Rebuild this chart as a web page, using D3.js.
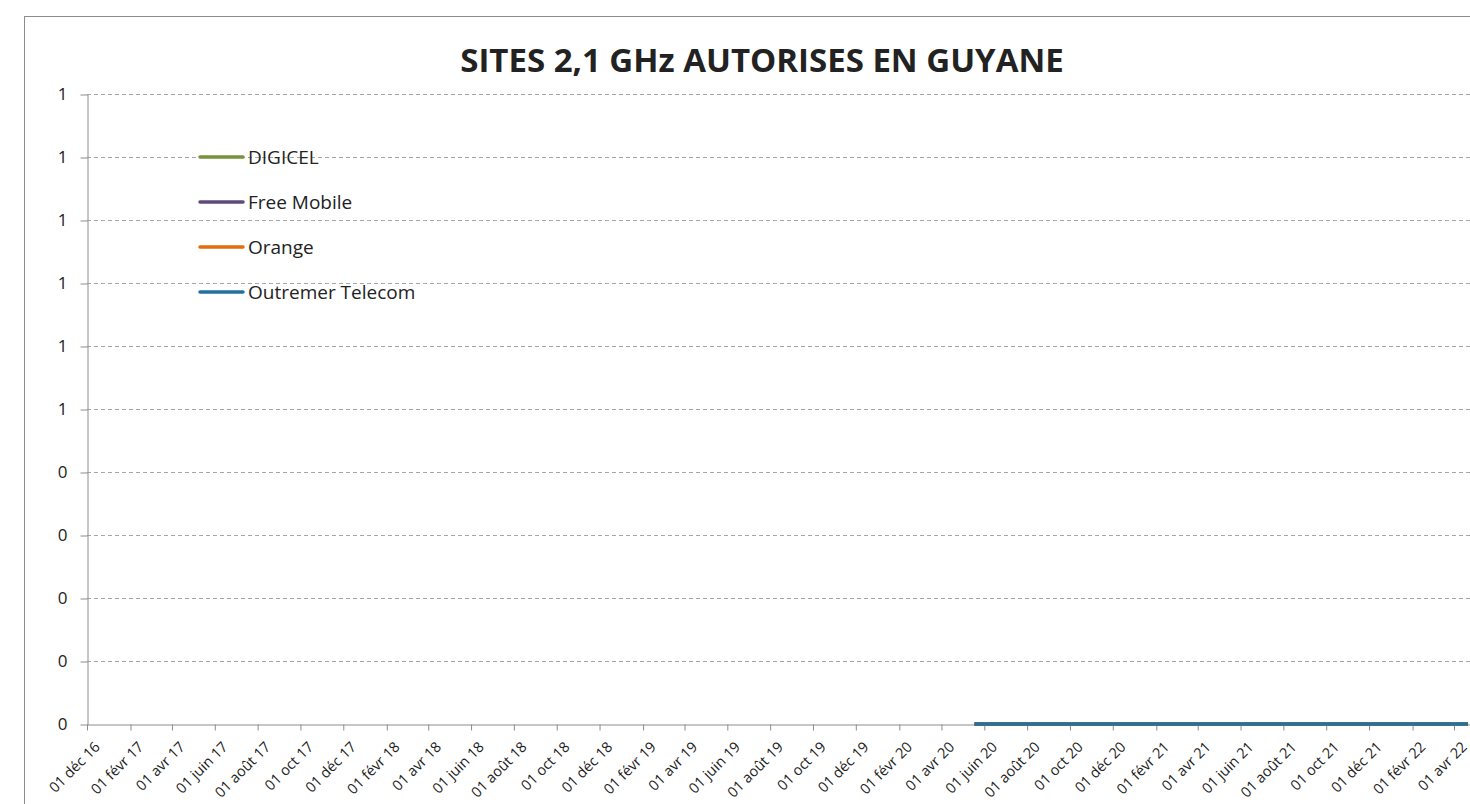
<!DOCTYPE html>
<meta charset="utf-8">
<script src="https://d3js.org/d3.v7.min.js"></script>
<style>
  body { margin: 0; background: #fff; overflow: hidden; }
  text { font-family: "Open Sans", "Liberation Sans", sans-serif; fill: #222; }
</style>
<div id="chart"></div>
<script>

// ---- data ----
var series = ["DIGICEL", "Free Mobile", "Orange", "Outremer Telecom"];
var colors = ["#77933C", "#604A7B", "#E46C0A", "#21729F"];

// dates of the observations (all operators report 0 sites)
var obsDates = ["2020-05-18", "2020-07-01", "2020-09-01", "2020-11-01", "2021-01-01",
  "2021-03-01", "2021-05-01", "2021-07-01", "2021-09-01", "2021-11-01",
  "2022-01-01", "2022-03-01", "2022-04-21"];
var digicel   = [0, 0, 0, 0, 0, 0, 0, 0, 0, 0, 0, 0, 0];
var freeMob   = [0, 0, 0, 0, 0, 0, 0, 0, 0, 0, 0, 0, 0];
var orange    = [0, 0, 0, 0, 0, 0, 0, 0, 0, 0, 0, 0, 0];
var outremer  = [0, 0, 0, 0, 0, 0, 0, 0, 0, 0, 0, 0, 0];
var values = [digicel, freeMob, orange, outremer];

var yTicks = [0, 0.1, 0.2, 0.3, 0.4, 0.5, 0.6, 0.7, 0.8, 0.9, 1];
var yTickLabels = ["0", "0", "0", "0", "0", "1", "1", "1", "1", "1", "1"];

var xTickDates = ["2016-12-01", "2017-02-01", "2017-04-01", "2017-06-01", "2017-08-01",
  "2017-10-01", "2017-12-01", "2018-02-01", "2018-04-01", "2018-06-01", "2018-08-01",
  "2018-10-01", "2018-12-01", "2019-02-01", "2019-04-01", "2019-06-01", "2019-08-01",
  "2019-10-01", "2019-12-01", "2020-02-01", "2020-04-01", "2020-06-01", "2020-08-01",
  "2020-10-01", "2020-12-01", "2021-02-01", "2021-04-01", "2021-06-01", "2021-08-01",
  "2021-10-01", "2021-12-01", "2022-02-01", "2022-04-01"];
var monthsFr = ["janv", "févr", "mars", "avr", "mai", "juin", "juil", "août", "sept", "oct", "nov", "déc"];

var title = "SITES 2,1 GHz AUTORISES EN GUYANE";

// ---- layout ----
var W = 1470, H = 804;
var plotLeft = 87, plotTop = 94, plotBottom = 724;

var svg = d3.select("#chart").append("svg")
  .attr("width", W).attr("height", H);

svg.append("rect")
  .attr("x", 24.5).attr("y", 16.5)
  .attr("width", W + 50).attr("height", H + 50)
  .attr("fill", "#fff").attr("stroke", "#8c8c8c");

var parse = d3.utcParse("%Y-%m-%d");
var t0 = parse("2016-12-01"), t1 = parse("2022-04-01");
// the plot keeps going beyond the window on the right
var pxPerDay = (1454 - plotLeft) / d3.utcDay.count(t0, t1);
var tEnd = parse("2022-08-01");

var x = d3.scaleUtc()
  .domain([t0, tEnd])
  .range([plotLeft, plotLeft + pxPerDay * d3.utcDay.count(t0, tEnd)]);

var y = d3.scaleLinear()
  .domain([0, 1])
  .range([plotBottom, plotTop]);

// gridlines
svg.append("g")
  .selectAll("line")
  .data(yTicks.slice(1))
  .join("line")
    .attr("x1", plotLeft).attr("x2", W)
    .attr("y1", d => Math.round(y(d)) + 0.5)
    .attr("y2", d => Math.round(y(d)) + 0.5)
    .attr("stroke", "#a6a6a6")
    .attr("stroke-dasharray", "4,3");

// y axis
var yAxis = svg.append("g")
  .attr("transform", "translate(" + (plotLeft + 0.5) + ",0.5)")
  .call(d3.axisLeft(y)
    .tickValues(yTicks)
    .tickFormat((d, i) => yTickLabels[i])
    .tickSize(7)
    .tickPadding(13)
    .tickSizeOuter(0));
yAxis.select(".domain").attr("stroke", "#8c8c8c");
yAxis.selectAll(".tick line").attr("stroke", "#8c8c8c");
yAxis.selectAll(".tick text")
  .style("font-size", "17px")
  .attr("fill", "#222");

// x axis
var xAxis = svg.append("g")
  .attr("transform", "translate(0," + (plotBottom + 0.5) + ")")
  .call(d3.axisBottom(x)
    .tickValues(xTickDates.map(parse))
    .tickFormat(d => "01 " + monthsFr[d.getUTCMonth()] + " " + String(d.getUTCFullYear()).slice(2))
    .tickSize(6)
    .tickSizeOuter(0));
xAxis.select(".domain").attr("stroke", "#8c8c8c");
xAxis.selectAll(".tick line").attr("stroke", "#8c8c8c");
xAxis.selectAll(".tick text")
  .style("font-size", "14.5px")
  .attr("fill", "#222")
  .attr("text-anchor", "end")
  .attr("dy", "0")
  .attr("transform", "translate(7,17) rotate(-45)");

// lines
var line = d3.line()
  .x(d => x(d.date))
  .y(d => y(d.v));

series.forEach(function (name, i) {
  var pts = obsDates.map((dt, j) => ({ date: parse(dt), v: values[i][j] }));
  svg.append("path")
    .datum(pts)
    .attr("fill", "none")
    .attr("stroke", colors[i])
    .attr("stroke-width", 3.5)
    .attr("d", line);
});

// title
svg.append("text")
  .attr("x", 762).attr("y", 72)
  .attr("text-anchor", "middle")
  .style("font-size", "33px")
  .style("font-weight", "bold")
  .attr("fill", "#111")
  .text(title);

// legend
var legend = svg.append("g")
  .selectAll("g")
  .data(series)
  .join("g")
    .attr("transform", (d, i) => "translate(200," + (157 + i * 45) + ")");
legend.append("line")
  .attr("x1", 0).attr("x2", 43)
  .attr("stroke", (d, i) => colors[i])
  .attr("stroke-width", 3.5)
  .attr("stroke-linecap", "round");
legend.append("text")
  .attr("x", 48).attr("y", 6.5)
  .style("font-size", "19px")
  .text(d => d);

</script>
